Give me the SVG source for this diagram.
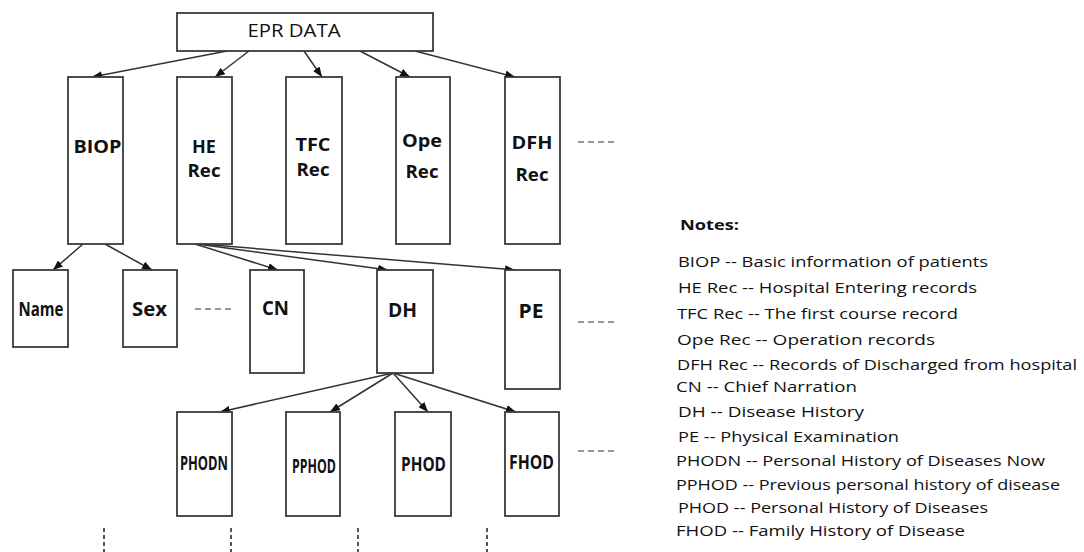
<svg xmlns="http://www.w3.org/2000/svg" width="1084" height="552" viewBox="0 0 1084 552">
<style>
.box{fill:#fff;stroke:#3a3a3a;stroke-width:1.8}
.lbl{font-family:"Open Sans","Liberation Sans",sans-serif;font-weight:bold;fill:#111;text-anchor:middle;font-size:18px}
.l2{font-size:19px}
.l3{font-size:20px}
.conn{stroke:#333;stroke-width:1.5;fill:none;marker-end:url(#ah)}
.dash{stroke:#777;stroke-width:1.5;stroke-dasharray:6 4;fill:none}
.vdot{stroke:#555;stroke-width:2;stroke-dasharray:4 3;fill:none}
.note{font-family:"Open Sans","Liberation Sans",sans-serif;font-size:15px;fill:#111}
.title{font-family:"Open Sans","Liberation Sans",sans-serif;font-size:18px;fill:#111;text-anchor:middle}
</style>
<defs>
<marker id="ah" markerUnits="userSpaceOnUse" markerWidth="10" markerHeight="8" refX="10" refY="4" orient="auto">
<path d="M0,0 L10,4 L0,8 z" fill="#111"/>
</marker>
</defs>

<g id="connectors">
<line class="conn" x1="227" y1="51" x2="92" y2="77"/>
<line class="conn" x1="249" y1="51" x2="215" y2="77"/>
<line class="conn" x1="304" y1="51" x2="322" y2="77"/>
<line class="conn" x1="360" y1="51" x2="410" y2="77"/>
<line class="conn" x1="415" y1="51" x2="515" y2="77"/>
<line class="conn" x1="83" y1="244" x2="53" y2="270"/>
<line class="conn" x1="105" y1="244" x2="152" y2="270"/>
<line class="conn" x1="195" y1="244" x2="278" y2="270"/>
<line class="conn" x1="197" y1="244" x2="388" y2="270"/>
<line class="conn" x1="200" y1="244" x2="515" y2="270"/>
<line class="conn" x1="393" y1="373" x2="220" y2="412"/>
<line class="conn" x1="393" y1="373" x2="330" y2="412"/>
<line class="conn" x1="393" y1="373" x2="428" y2="412"/>
<line class="conn" x1="393" y1="373" x2="516" y2="412"/>
<line class="dash" x1="578" y1="142" x2="614" y2="142"/>
<line class="dash" x1="195" y1="309" x2="232" y2="309"/>
<line class="dash" x1="578" y1="322" x2="616" y2="322"/>
<line class="dash" x1="578" y1="451" x2="615" y2="451"/>
<line class="vdot" x1="104" y1="528" x2="104" y2="552"/>
<line class="vdot" x1="231" y1="528" x2="231" y2="552"/>
<line class="vdot" x1="358" y1="528" x2="358" y2="552"/>
<line class="vdot" x1="487" y1="528" x2="487" y2="552"/>
</g>

<g id="epr"><rect class="box" x="177" y="13" width="256" height="38"/><text class="title" x="294" y="37" textLength="93" lengthAdjust="spacingAndGlyphs">EPR  DATA</text></g>

<g id="biop"><rect class="box" x="68" y="77" width="55" height="167"/><text class="lbl" x="97.5" y="153" font-size="19" textLength="48" lengthAdjust="spacingAndGlyphs">BIOP</text></g>
<g id="herec"><rect class="box" x="177" y="77" width="55" height="167"/><text class="lbl" x="204" y="153">HE</text><text class="lbl" x="204" y="177" textLength="33" lengthAdjust="spacingAndGlyphs">Rec</text></g>
<g id="tfcrec"><rect class="box" x="286" y="77" width="56" height="167"/><text class="lbl" x="313" y="151" textLength="35" lengthAdjust="spacingAndGlyphs">TFC</text><text class="lbl" x="313" y="176" textLength="33" lengthAdjust="spacingAndGlyphs">Rec</text></g>
<g id="operec"><rect class="box" x="396" y="77" width="54" height="167"/><text class="lbl" x="422" y="147" textLength="40" lengthAdjust="spacingAndGlyphs">Ope</text><text class="lbl" x="422" y="178" textLength="33" lengthAdjust="spacingAndGlyphs">Rec</text></g>
<g id="dfhrec"><rect class="box" x="505" y="77" width="55" height="167"/><text class="lbl" x="532" y="149" textLength="41" lengthAdjust="spacingAndGlyphs">DFH</text><text class="lbl" x="532" y="181" textLength="33" lengthAdjust="spacingAndGlyphs">Rec</text></g>

<g id="name"><rect class="box" x="13" y="270" width="55" height="77"/><text class="lbl l2" x="41" y="316" textLength="45" lengthAdjust="spacingAndGlyphs">Name</text></g>
<g id="sex"><rect class="box" x="123" y="270" width="54" height="77"/><text class="lbl l2" x="149.5" y="316" textLength="35" lengthAdjust="spacingAndGlyphs">Sex</text></g>
<g id="cn"><rect class="box" x="250" y="270" width="54" height="103"/><text class="lbl l2" x="275.5" y="315" textLength="27" lengthAdjust="spacingAndGlyphs">CN</text></g>
<g id="dh"><rect class="box" x="377" y="270" width="56" height="103"/><text class="lbl l2" x="402.5" y="317" textLength="29" lengthAdjust="spacingAndGlyphs">DH</text></g>
<g id="pe"><rect class="box" x="505" y="270" width="55" height="119"/><text class="lbl l2" x="531" y="318" textLength="25" lengthAdjust="spacingAndGlyphs">PE</text></g>

<g id="phodn"><rect class="box" x="177" y="412" width="55" height="104"/><text class="lbl l3" x="204" y="470" textLength="48" lengthAdjust="spacingAndGlyphs">PHODN</text></g>
<g id="pphod"><rect class="box" x="286" y="412" width="54" height="104"/><text class="lbl l3" x="314" y="473" textLength="44" lengthAdjust="spacingAndGlyphs">PPHOD</text></g>
<g id="phod"><rect class="box" x="395" y="412" width="56" height="104"/><text class="lbl l3" x="423.5" y="471" textLength="45" lengthAdjust="spacingAndGlyphs">PHOD</text></g>
<g id="fhod"><rect class="box" x="505" y="412" width="54" height="104"/><text class="lbl l3" x="531.5" y="469" textLength="45" lengthAdjust="spacingAndGlyphs">FHOD</text></g>

<g id="notes">
<text class="note" x="680" y="230" font-weight="bold" textLength="59" lengthAdjust="spacingAndGlyphs">Notes:</text>
<text class="note" x="678" y="267" textLength="310" lengthAdjust="spacingAndGlyphs">BIOP  -- Basic information of patients</text>
<text class="note" x="678" y="293" textLength="299" lengthAdjust="spacingAndGlyphs">HE Rec --  Hospital Entering records</text>
<text class="note" x="677" y="319" textLength="281" lengthAdjust="spacingAndGlyphs">TFC Rec --  The first course record</text>
<text class="note" x="677" y="345" textLength="258" lengthAdjust="spacingAndGlyphs">Ope Rec --   Operation records</text>
<text class="note" x="677" y="370" textLength="400" lengthAdjust="spacingAndGlyphs">DFH Rec -- Records of Discharged from hospital</text>
<text class="note" x="676" y="392" textLength="181" lengthAdjust="spacingAndGlyphs">CN --  Chief Narration</text>
<text class="note" x="678" y="417" textLength="186" lengthAdjust="spacingAndGlyphs">DH  --  Disease History</text>
<text class="note" x="678" y="442" textLength="221" lengthAdjust="spacingAndGlyphs">PE -- Physical Examination</text>
<text class="note" x="676" y="466" textLength="369" lengthAdjust="spacingAndGlyphs">PHODN -- Personal History of Diseases Now</text>
<text class="note" x="676" y="490" textLength="384" lengthAdjust="spacingAndGlyphs">PPHOD --  Previous personal history of disease</text>
<text class="note" x="678" y="513" textLength="310" lengthAdjust="spacingAndGlyphs">PHOD -- Personal History of Diseases</text>
<text class="note" x="676" y="536" textLength="289" lengthAdjust="spacingAndGlyphs">FHOD --  Family History of Disease</text>
</g>
</svg>
